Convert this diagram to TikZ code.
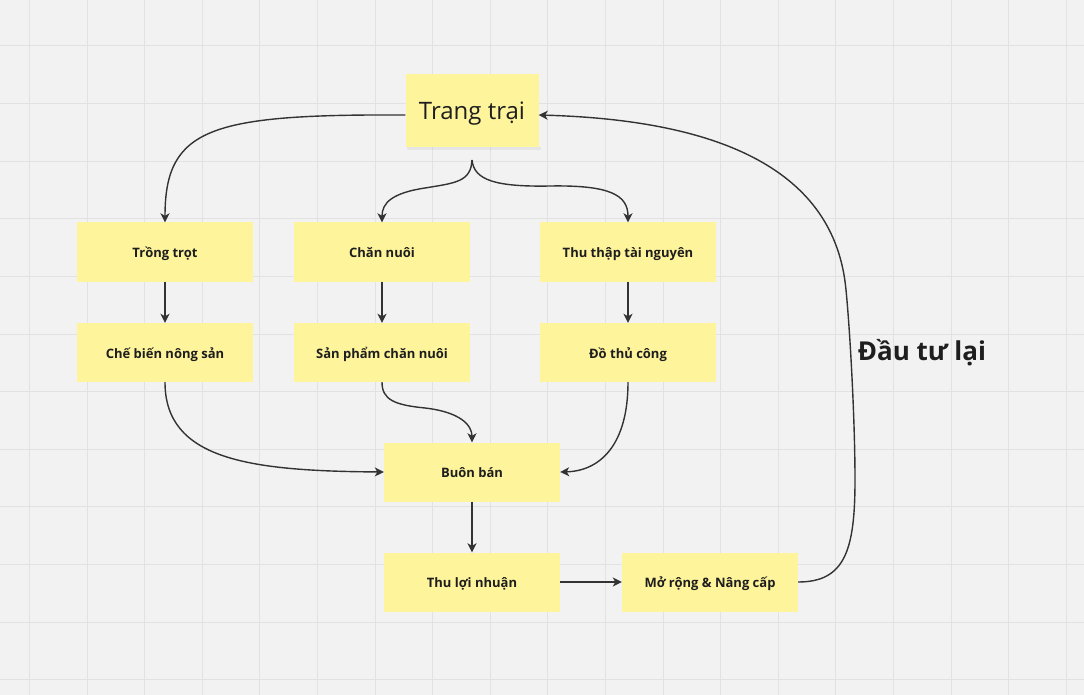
\documentclass[tikz,border=0pt]{standalone}
\usepackage{fontspec}
\setmainfont{Open Sans}
\usetikzlibrary{arrows.meta}
\definecolor{bg}{RGB}{242,242,242}
\definecolor{gridc}{RGB}{226,226,226}
\definecolor{notec}{RGB}{254,244,156}
\definecolor{ink}{RGB}{51,51,51}
\definecolor{txt}{RGB}{30,30,30}
\begin{document}
\begin{tikzpicture}[x=1pt,y=-1pt,
  note/.style={fill=notec, minimum width=176pt, minimum height=59pt, inner sep=0pt,
    text height=13.5pt, text depth=2.1pt,
    font=\bfseries\fontsize{13}{15}\selectfont, text=txt},
  bignote/.style={fill=notec, minimum width=133pt, minimum height=73pt, inner sep=0pt,
    text height=23pt, text depth=5.4pt,
    font=\fontsize{24}{28}\selectfont, text=txt},
  conn/.style={draw=ink, line width=1.4pt, -{Stealth[length=9pt,width=9pt,inset=2.5pt]}},
  lbl/.style={font=\bfseries\fontsize{26}{30}\selectfont, text=txt},
  gridline/.style={draw=gridc, line width=1pt}
]
\fill[bg] (0,0) rectangle (1084,695);
\useasboundingbox (0,0) rectangle (1084,695);
\foreach \i in {0,...,18} \draw[gridline] ({29.5+57.6*\i},0) -- ({29.5+57.6*\i},695);
\foreach \j in {0,...,11} \draw[gridline] (0,{46+57.6*\j}) -- (1084,{46+57.6*\j});

% shadow of the top note
\fill[black, opacity=0.05] (407,147) rectangle (541,150);
\node[bignote] (trang) at (472,110.5) {Trang trại};

\node[note] (trong) at (165,252) {Trồng trọt};
\node[note] (chan)  at (382,252) {Chăn nuôi};
\node[note] (thu)   at (628,252) {Thu thập tài nguyên};
\node[note] (che)   at (165,352.5) {Chế biến nông sản};
\node[note] (sp)    at (382,352.5) {Sản phẩm chăn nuôi};
\node[note] (do)    at (628,352.5) {Đồ thủ công};
\node[note] (buon)  at (472,472) {Buôn bán};
\node[note] (loi)   at (472,582) {Thu lợi nhuận};
\node[note] (mo)    at (710,582) {Mở rộng \& Nâng cấp};

\coordinate (br) at (472,160);

\draw[conn] ([yshift=-4.5pt]trang.west) .. controls (210,114) and (165,128) .. (trong.north);
\draw[conn] (br) .. controls (471,182) and (455,183) .. (425,188) .. controls (392,193) and (382,203) .. (chan.north);
\draw[conn] (br) .. controls (474,180) and (495,187) .. (550,186) .. controls (610,185) and (628,195) .. (thu.north);
\draw[conn] (trong) -- (che);
\draw[conn] (chan) -- (sp);
\draw[conn] (thu) -- (do);
\draw[conn] (che.south) .. controls (165,460) and (250,471) .. (buon.west);
\draw[conn] (sp.south) .. controls (382,400) and (395,405) .. (425,408) .. controls (460,412) and (472,425) .. (buon.north);
\draw[conn] (do.south) .. controls (628,445) and (600,471) .. (buon.east);
\draw[conn] (buon) -- (loi);
\draw[conn] (loi) -- (mo);
\draw[conn] (mo.east) .. controls (845,582) and (855,550) .. (855,480) .. controls (855,420) and (850,330) .. (846,290) .. controls (835,170) and (720,120) .. ([yshift=-4.5pt]trang.east);

\node[lbl] (inv) at (922,353) {Đầu tư lại};
\end{tikzpicture}
\end{document}
